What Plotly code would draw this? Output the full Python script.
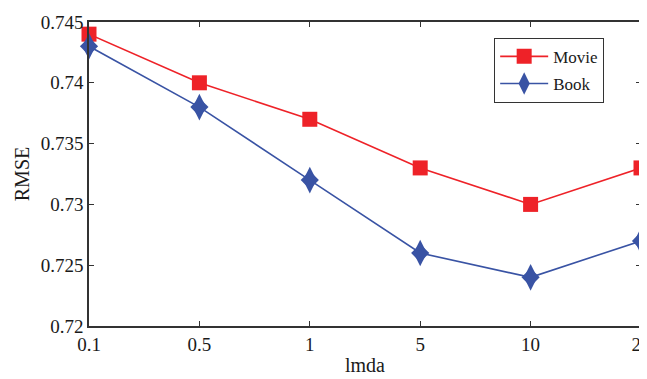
import plotly.graph_objects as go

categories = ["0.1", "0.5", "1", "5", "10", "20"]
movie = [0.744, 0.740, 0.737, 0.733, 0.730, 0.733]
book = [0.743, 0.738, 0.732, 0.726, 0.724, 0.727]
y_ticks = [0.72, 0.725, 0.73, 0.735, 0.74, 0.745]
y_tick_text = ["0.72", "0.725", "0.73", "0.735", "0.74", "0.745"]
x_title = "lmda"
y_title = "RMSE"

RED = "#ee2228"
BLUE = "#3953a4"
FONT = "Liberation Serif"

fig = go.Figure()
fig.add_trace(go.Scatter(
    x=categories, y=movie, name="Movie", mode="lines+markers",
    legendgroup="movie",
    line=dict(color=RED, width=1.6),
    marker=dict(symbol="square", size=15, color=RED),
    cliponaxis=False,
))
fig.add_trace(go.Scatter(
    x=categories, y=book, name="Book", mode="lines+markers",
    legendgroup="book",
    line=dict(color=BLUE, width=1.6),
    marker=dict(symbol="diamond-tall", size=19, color=BLUE),
    cliponaxis=False,
))
fig.add_trace(go.Scatter(
    x=categories, y=book, name="Book", mode="markers",
    legendgroup="book", showlegend=False,
    marker=dict(symbol="diamond", size=14, color=BLUE),
    cliponaxis=False,
))

axis_common = dict(
    showline=True, linecolor="#333333", linewidth=1.5, mirror="ticks",
    ticks="inside", ticklen=5, tickcolor="#333333", tickwidth=1,
    showgrid=False, zeroline=False, automargin=False,
    tickfont=dict(family=FONT, size=19, color="#1a1a1a"),
)

fig.update_layout(
    width=639, height=371,
    margin=dict(l=81, r=6, t=14, b=53),
    paper_bgcolor="white", plot_bgcolor="white",
    font=dict(family=FONT, color="#1a1a1a"),
    xaxis=dict(
        type="category", range=[0, 5],
        **axis_common,
    ),
    yaxis=dict(
        range=[0.72, 0.745], tickvals=y_ticks, ticktext=y_tick_text,
        title=dict(text=y_title, font=dict(family=FONT, size=20), standoff=6),
        **axis_common,
    ),
    legend=dict(
        x=0.734, y=0.948, xanchor="left", yanchor="top",
        bordercolor="#333333", borderwidth=1, bgcolor="white",
        font=dict(family=FONT, size=17),
        tracegroupgap=2, itemwidth=48,
    ),
    annotations=[dict(
        text=x_title, xref="paper", yref="paper", x=0.5, y=0,
        xanchor="center", yanchor="middle", yshift=-39, showarrow=False,
        font=dict(family=FONT, size=20, color="#1a1a1a"),
    )],
    showlegend=True,
)

fig.write_html("out.html")
